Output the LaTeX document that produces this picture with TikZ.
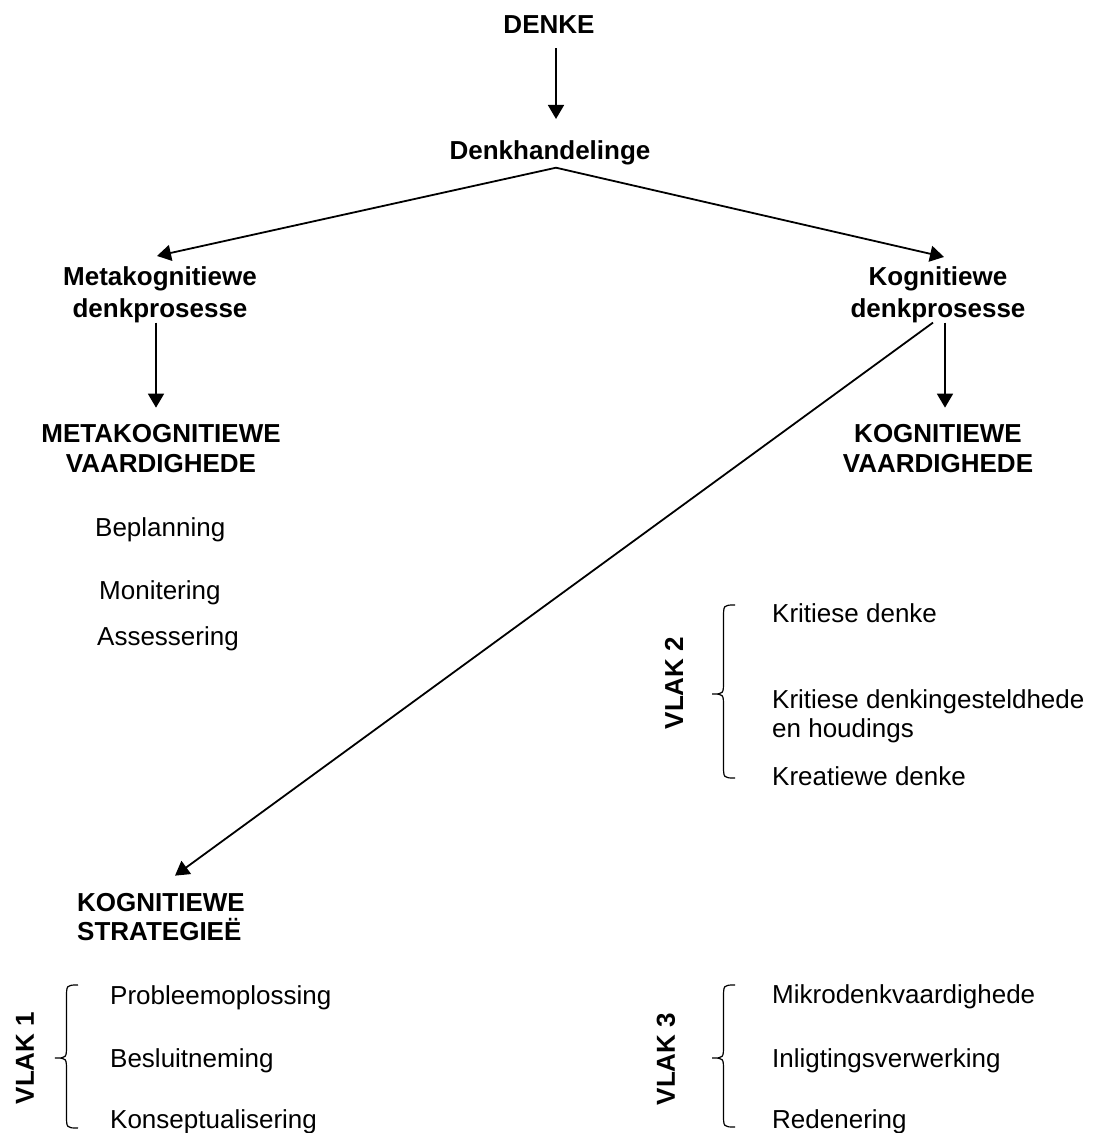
\documentclass[tikz,border=0pt]{standalone}
\usepackage{fontspec}
\setmainfont{Liberation Sans}
\usetikzlibrary{arrows.meta}
\tikzset{
  lbl/.style={inner sep=0pt, font=\fontsize{26}{30}\selectfont},
  head/.style={inner sep=0pt, font=\fontsize{26}{31}\selectfont\bfseries},
  level/.style={inner sep=0pt, font=\fontsize{26}{30}\selectfont\bfseries, rotate=90},
  arr/.style={line width=1.8pt, -{Triangle[length=14pt,width=16pt]}},
  brace/.style={line width=1.2pt},
}
% curly brace opening to the right: tip x, top y, tip y, bottom y
\newcommand\levelbrace[4]{%
  \draw[brace] ({#1+23},#2) .. controls ({#1+11.5},#2) .. ({#1+11.5},{#2+13})
    -- ({#1+11.5},{#3-13}) .. controls ({#1+11.5},#3) .. (#1,#3)
    .. controls ({#1+11.5},#3) .. ({#1+11.5},{#3+13})
    -- ({#1+11.5},{#4-13}) .. controls ({#1+11.5},#4) .. ({#1+23},#4);}
\begin{document}
\begin{tikzpicture}[x=1pt,y=-1pt]
\useasboundingbox (0,0) rectangle (1094,1133);

% top of the hierarchy (multi-line nodes are placed by their last baseline)
\node[head, anchor=base] (denke) at (549,33) {DENKE};
\node[head, anchor=base] (handel) at (550,159) {Denkhandelinge};

% the two kinds of thinking processes
\node[head, anchor=base, align=center, font=\fontsize{26}{32}\selectfont\bfseries] (meta) at (160,317) {Metakognitiewe\\denkprosesse};
\node[head, anchor=base, align=center, font=\fontsize{26}{32}\selectfont\bfseries] (kog) at (938,317) {Kognitiewe\\denkprosesse};

% skills
\node[head, anchor=base, align=center, font=\fontsize{26}{30}\selectfont\bfseries] (mvaard) at (161,472) {METAKOGNITIEWE\\VAARDIGHEDE};
\node[head, anchor=base, align=center, font=\fontsize{26}{30}\selectfont\bfseries] (kvaard) at (938,472) {KOGNITIEWE\\VAARDIGHEDE};

\node[lbl, anchor=base west] (beplan) at (95,536) {Beplanning};
\node[lbl, anchor=base west] (moniter) at (99,599) {Monitering};
\node[lbl, anchor=base west] (assess) at (97,645) {Assessering};

% level 2
\node[level] (vlak2) at (674,683) {VLAK 2};
\levelbrace{712}{605}{694}{778}
\node[lbl, anchor=base west] (kritdenk) at (772,622) {Kritiese denke};
\node[lbl, anchor=base west, align=left, font=\fontsize{26}{29}\selectfont] (kritges) at (772,737) {Kritiese denkingesteldhede\\en houdings};
\node[lbl, anchor=base west] (kreat) at (772,785) {Kreatiewe denke};

% strategies
\node[head, anchor=base west, align=left, font=\fontsize{26}{29}\selectfont\bfseries] (strat) at (77,940) {KOGNITIEWE\\STRATEGIEË};

% level 1
\node[level] (vlak1) at (25,1058) {VLAK 1};
\levelbrace{55}{985}{1058}{1128}
\node[lbl, anchor=base west] (probleem) at (110,1004) {Probleemoplossing};
\node[lbl, anchor=base west] (besluit) at (110,1067) {Besluitneming};
\node[lbl, anchor=base west] (konsep) at (110,1128) {Konseptualisering};

% level 3
\node[level] (vlak3) at (666,1059) {VLAK 3};
\levelbrace{712}{985}{1058}{1127}
\node[lbl, anchor=base west] (mikro) at (772,1003) {Mikrodenkvaardighede};
\node[lbl, anchor=base west] (inlig) at (772,1067) {Inligtingsverwerking};
\node[lbl, anchor=base west] (rede) at (772,1128) {Redenering};

% connectors
\draw[arr] ([xshift=7pt,yshift=-15pt]denke.south) -- ([xshift=6pt,yshift=21pt]handel.north);
\draw[arr] ([xshift=6pt,yshift=-3pt]handel.south) -- ([xshift=-3pt,yshift=10pt]meta.north);
\draw[arr] ([xshift=6pt,yshift=-3pt]handel.south) -- ([xshift=6pt,yshift=9pt]kog.north);
\draw[arr] ([xshift=-4pt]meta.south) -- ([xshift=-5pt,yshift=16pt]mvaard.north);
\draw[arr] ([xshift=7pt]kog.south) -- ([xshift=7pt,yshift=16pt]kvaard.north);
\draw[arr] ([xshift=-5pt]kog.south) -- ([xshift=14pt,yshift=17pt]strat.north);
\end{tikzpicture}
\end{document}
